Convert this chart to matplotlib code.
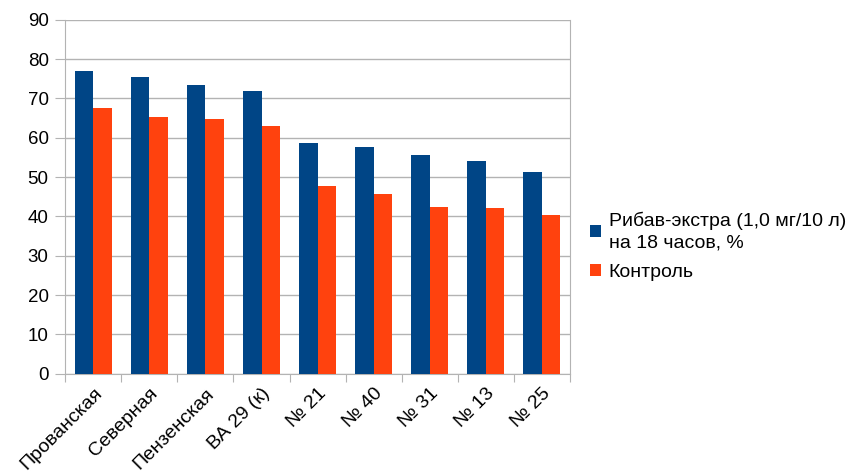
import numpy as np
import matplotlib.pyplot as plt

categories = ['Прованская', 'Северная', 'Пензенская', 'ВА 29 (к)', '№ 21', '№ 40', '№ 31', '№ 13', '№ 25']
ribav = [77.0, 75.5, 73.4, 71.9, 58.8, 57.7, 55.6, 54.1, 51.3]
control = [67.6, 65.4, 64.9, 62.9, 47.8, 45.6, 42.4, 42.1, 40.3]

plt.rcParams['font.family'] = ['Liberation Sans', 'DejaVu Sans']

fig = plt.figure(figsize=(8.48, 4.72), dpi=100)
ax = fig.add_axes([0.077, 0.208, 0.595, 0.75])

x = np.arange(len(categories))
w = 0.33
ax.bar(x - w / 2, ribav, w, color='#004586', label='Рибав-экстра (1,0 мг/10 л)\nна 18 часов, %', zorder=3)
ax.bar(x + w / 2, control, w, color='#ff420e', label='Контроль', zorder=3)

ax.set_xlim(-0.5, len(categories) - 0.5)
ax.set_ylim(0, 90)
ax.set_yticks(range(0, 91, 10))
ax.yaxis.grid(True, color='#b3b3b3', linewidth=1, zorder=0)

# tick marks between categories
ax.set_xticks(np.arange(-0.5, len(categories), 1))
ax.set_xticklabels([])
ax.set_xticks(x, minor=True)
ax.set_xticklabels(categories, minor=True, rotation=45, ha='right', rotation_mode='anchor', fontsize=14)
ax.tick_params(axis='x', which='minor', length=0, pad=8)
ax.tick_params(axis='x', which='major', length=6, color='#b3b3b3')
ax.tick_params(axis='y', length=7, color='#b3b3b3', labelsize=13.5, pad=5)

for s in ['top']:
    ax.spines[s].set_visible(False)
for s in ['left', 'bottom', 'right']:
    ax.spines[s].set_color('#b3b3b3')

leg = ax.legend(loc='center left', bbox_to_anchor=(1.04, 0.36), frameon=False, fontsize=14,
                handlelength=0.55, handleheight=0.55, handletextpad=0.4, labelspacing=0.65,
                borderpad=0, borderaxespad=0)
for t in leg.get_texts():
    t.set_linespacing(1.3)

fig.savefig('out.png', dpi=100)
